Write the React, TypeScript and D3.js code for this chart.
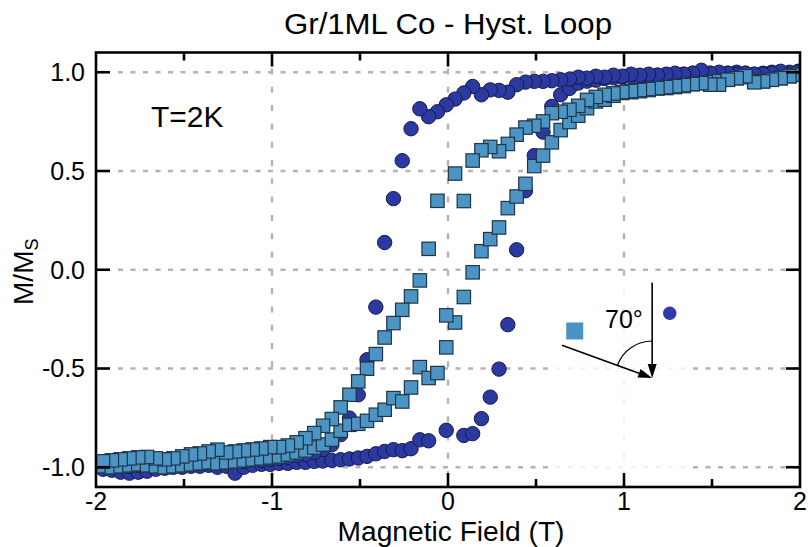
import React from 'react';
import * as d3 from 'd3';

// Field values (T) for the two sweep directions
const fieldDown = [1.99,1.94,1.89,1.84,1.79,1.74,1.69,1.64,1.59,1.54,1.49,1.44,1.39,1.34,1.29,1.24,1.19,1.14,1.09,1.04,0.99,0.94,0.89,0.84,0.79,0.74,0.69,0.64,0.59,0.54,0.49,0.44,0.39,0.34,0.29,0.24,0.19,0.14,0.09,0.04,-0.01,-0.06,-0.11,-0.16,-0.21,-0.26,-0.31,-0.36,-0.41,-0.46,-0.51,-0.56,-0.61,-0.66,-0.71,-0.76,-0.81,-0.86,-0.91,-0.96,-1.01,-1.06,-1.11,-1.16,-1.21,-1.26,-1.31,-1.36,-1.41,-1.46,-1.51,-1.56,-1.61,-1.66,-1.71,-1.76,-1.81,-1.86,-1.91,-1.96];
const fieldUp = [-1.96,-1.91,-1.86,-1.81,-1.76,-1.71,-1.66,-1.61,-1.56,-1.51,-1.46,-1.41,-1.36,-1.31,-1.26,-1.21,-1.16,-1.11,-1.06,-1.01,-0.96,-0.91,-0.86,-0.81,-0.76,-0.71,-0.66,-0.61,-0.56,-0.51,-0.46,-0.41,-0.36,-0.31,-0.26,-0.21,-0.16,-0.11,-0.06,-0.01,0.04,0.09,0.14,0.19,0.24,0.29,0.34,0.39,0.44,0.49,0.54,0.59,0.64,0.69,0.74,0.79,0.84,0.89,0.94,0.99,1.04,1.09,1.14,1.19,1.24,1.29,1.34,1.39,1.44,1.49,1.54,1.59,1.64,1.69,1.74,1.79,1.84,1.89,1.94,1.99];

// Dark circles (normal incidence)
const circleDownM: (number | null)[] = [1.0,0.99,1.005,0.995,0.99,0.99,0.995,0.99,0.995,1.0,0.995,1.01,0.995,0.99,0.995,0.99,0.985,0.99,0.985,0.99,0.98,0.985,0.975,0.98,0.97,0.975,0.965,0.962,0.957,0.954,0.954,0.95,0.937,0.899,0.908,0.911,0.886,0.928,0.895,0.864,0.835,0.8,0.775,0.815,0.714,0.552,0.36,0.138,-0.189,-0.456,-0.633,-0.751,-0.835,-0.886,-0.911,-0.925,-0.935,-0.94,-0.95,-0.955,-0.96,-0.965,-0.96,-0.97,-0.965,-0.975,-0.97,-0.975,-0.98,-0.975,-0.985,-0.98,-0.985,-0.99,-0.985,-0.99,-0.995,-0.99,-0.995,-0.99];
const circleUpM: (number | null)[] = [-1.01,-1.015,-1.025,-1.03,-1.025,-1.02,-1.01,-1.005,-1.0,-1.0,-0.995,-0.995,-0.99,-1.0,-0.995,-1.03,-1.0,-0.99,-0.985,-0.985,-0.98,-0.98,-0.975,-0.975,-0.97,-0.968,-0.965,-0.962,-0.958,-0.953,-0.945,-0.932,-0.92,-0.911,-0.916,-0.906,-0.861,-0.866,null,-0.813,null,-0.839,-0.83,-0.754,-0.645,-0.503,-0.278,0.101,0.4,0.578,0.697,0.827,0.886,0.918,0.945,0.955,0.96,0.968,0.972,0.975,0.978,0.982,0.98,0.985,0.988,0.99,0.99,0.995,0.99,0.995,0.99,0.995,1.0,0.995,0.99,0.995,1.0,0.995,1.0,1.005];

// Light squares (70 degree incidence)
const squareDownM: (number | null)[] = [0.987,0.98,0.97,0.962,0.954,0.949,0.98,0.97,0.962,0.937,0.937,0.945,0.94,0.935,0.93,0.925,0.92,0.915,0.91,0.905,0.9,0.893,0.886,0.875,0.86,0.83,0.81,0.8,0.793,0.751,0.729,0.72,0.684,0.637,0.6,0.622,0.605,0.553,0.348,0.487,-0.231,0.349,0.106,-0.054,-0.135,-0.203,-0.27,-0.343,-0.427,-0.501,-0.565,-0.633,-0.697,-0.756,-0.79,-0.827,-0.853,-0.874,-0.89,-0.898,-0.898,-0.905,-0.91,-0.915,-0.92,-0.925,-0.911,-0.92,-0.93,-0.935,-0.945,-0.955,-0.96,-0.955,-0.948,-0.95,-0.955,-0.96,-0.965,-0.97];
const squareUpM: (number | null)[] = [-0.995,-1.0,-0.995,-0.99,-0.985,-0.99,-0.995,-1.0,-0.995,-0.99,-0.985,-0.98,-0.975,-0.98,-0.975,-0.97,-0.965,-0.96,-0.955,-0.95,-0.945,-0.935,-0.925,-0.915,-0.9,-0.885,-0.86,-0.815,-0.785,-0.78,-0.765,-0.734,-0.709,-0.65,-0.667,-0.596,-0.493,-0.548,-0.523,-0.393,-0.267,-0.138,-0.013,0.094,0.155,0.214,0.312,0.371,0.435,0.525,0.578,0.645,0.707,0.748,0.78,0.818,0.852,0.861,0.881,0.895,0.899,0.904,0.91,0.918,0.92,0.925,0.93,0.94,0.945,0.95,0.955,0.962,0.97,0.975,0.954,0.954,0.962,0.97,0.98,0.987];

const xMajorTicks = [-2, -1, 0, 1, 2];
const xMinorTicks = [-1.5, -0.5, 0.5, 1.5];
const yTicks = [-1, -0.5, 0, 0.5, 1];
const xTickLabels = ['-2', '-1', '0', '1', '2'];
const yTickLabels = ['-1.0', '-0.5', '0.0', '0.5', '1.0'];

const FONT = '"Liberation Sans", Arial, Helvetica, sans-serif';
const CIRCLE_FILL = '#2c3a9f';
const CIRCLE_STROKE = '#141a52';
const SQUARE_FILL = '#4b94c4';
const SQUARE_STROKE = '#1f3447';
const GRID = '#b4b4b4';

function pairs(h: number[], m: (number | null)[]): [number, number][] {
  const out: [number, number][] = [];
  h.forEach((v, i) => {
    const val = m[i];
    if (val !== null && val !== undefined) out.push([v, val]);
  });
  return out;
}

export default function App() {
  const width = 808;
  const height = 547;
  const left = 96, right = 800, top = 52.5, bottom = 487;
  const x = d3.scaleLinear().domain([-2, 2]).range([left, right]);
  const y = d3.scaleLinear().domain([-1.1, 1.1]).range([bottom, top]);

  const circles = [...pairs(fieldUp, circleUpM), ...pairs(fieldDown, circleDownM)];
  const squares = [...pairs(fieldUp, squareUpM), ...pairs(fieldDown, squareDownM)];
  const sq = 13.4;

  // annotation geometry
  const tipX = x(1.16), tipY = y(-0.548);
  const vTopY = y(-0.066);
  const ang = (70 * Math.PI) / 180;
  const dirX = -Math.sin(ang), dirY = -Math.cos(ang);
  const len = 96;
  const sX = tipX + dirX * len, sY = tipY + dirY * len;
  const r = 37;
  const arcStart = [tipX, tipY - r];
  const arcEnd = [tipX + dirX * r, tipY + dirY * r];
  const headL = 14, headW = 4.5;
  const vHead = `${tipX},${tipY} ${tipX - headW},${tipY - headL} ${tipX + headW},${tipY - headL}`;
  const bx = tipX + dirX * headL, by = tipY + dirY * headL;
  const px = -dirY, py = dirX;
  const tHead = `${tipX},${tipY} ${bx + px * headW},${by + py * headW} ${bx - px * headW},${by - py * headW}`;

  return (
    <svg width={width} height={height} style={{ position: 'absolute', left: 0, top: 0, background: '#fff' }} fontFamily={FONT}>
      <defs>
        <clipPath id="plotClip">
          <rect x={left} y={top} width={right - left} height={bottom - top} />
        </clipPath>
      </defs>
      <rect x={0} y={0} width={width} height={height} fill="#fff" />

      {/* grid */}
      <g stroke={GRID} strokeWidth={2.4} fill="none">
        {yTicks.map((t) => (
          <line key={'gy' + t} x1={left + 22} x2={right - 2} y1={y(t)} y2={y(t)} strokeDasharray="5 7.5" />
        ))}
        {[-1, 0, 1].map((t) => (
          <line key={'gx' + t} x1={x(t)} x2={x(t)} y1={top + 16} y2={bottom - 2} strokeDasharray="6 12.3" />
        ))}
      </g>

      {/* inset veil */}
      <rect x={x(0.58)} y={y(-0.03)} width={x(1.36) - x(0.58)} height={y(-1.08) - y(-0.03)} fill="#fff" opacity={0.82} />

      {/* data */}
      <g clipPath="url(#plotClip)">
        {circles.map((d, i) => (
          <circle key={'c' + i} cx={x(d[0])} cy={y(d[1])} r={7.2} fill={CIRCLE_FILL} stroke={CIRCLE_STROKE} strokeWidth={1} />
        ))}
        {squares.map((d, i) => (
          <rect key={'s' + i} x={x(d[0]) - sq / 2} y={y(d[1]) - sq / 2} width={sq} height={sq} fill={SQUARE_FILL} stroke={SQUARE_STROKE} strokeWidth={1.2} />
        ))}
      </g>

      {/* frame */}
      <rect x={left} y={top} width={right - left} height={bottom - top} fill="none" stroke="#000" strokeWidth={2.6} />

      {/* ticks */}
      <g stroke="#000" strokeWidth={2.6}>
        {xMajorTicks.slice(1, -1).map((t) => (
          <g key={'xm' + t}>
            <line x1={x(t)} x2={x(t)} y1={bottom} y2={bottom - 14} />
            <line x1={x(t)} x2={x(t)} y1={top} y2={top + 14} />
          </g>
        ))}
        {xMinorTicks.map((t) => (
          <g key={'xn' + t}>
            <line x1={x(t)} x2={x(t)} y1={bottom} y2={bottom - 8} />
            <line x1={x(t)} x2={x(t)} y1={top} y2={top + 8} />
          </g>
        ))}
        {yTicks.map((t) => (
          <g key={'yt' + t}>
            <line x1={left} x2={left + 14} y1={y(t)} y2={y(t)} />
            <line x1={right} x2={right - 14} y1={y(t)} y2={y(t)} />
          </g>
        ))}
      </g>

      {/* tick labels */}
      <g fontSize={25} fill="#000">
        {xMajorTicks.map((t, i) => (
          <text key={'xl' + t} x={x(t)} y={510} textAnchor="middle">{xTickLabels[i]}</text>
        ))}
        {yTicks.map((t, i) => (
          <text key={'yl' + t} x={85} y={y(t)} dy="0.35em" textAnchor="end">{yTickLabels[i]}</text>
        ))}
      </g>

      {/* titles */}
      <text x={448} y={34} textAnchor="middle" fontSize={30} textLength={328} lengthAdjust="spacingAndGlyphs">Gr/1ML Co - Hyst. Loop</text>
      <text x={451} y={541} textAnchor="middle" fontSize={27} textLength={227} lengthAdjust="spacingAndGlyphs">Magnetic Field (T)</text>
      <text transform={`translate(33,${y(0) + 2}) rotate(-90)`} textAnchor="middle" fontSize={28}>
        M/M<tspan fontSize={18} dy={5}>S</tspan>
      </text>
      <text x={151} y={127} fontSize={30}>T=2K</text>

      {/* incidence annotation */}
      <rect x={x(0.72) - 8.5} y={y(-0.31) - 8.5} width={17} height={17} fill="#4a93c3" />
      <circle cx={x(1.26)} cy={y(-0.22)} r={6.7} fill="#2d3ba5" />
      <text x={605} y={328} fontSize={25}>70°</text>
      <g stroke="#000" strokeWidth={1.6} fill="none">
        <line x1={tipX} y1={vTopY} x2={tipX} y2={tipY - headL + 1} />
        <line x1={sX} y1={sY} x2={bx} y2={by} />
        <path d={`M${arcStart[0]},${arcStart[1]} A${r},${r} 0 0 0 ${arcEnd[0]},${arcEnd[1]}`} strokeWidth={1.2} />
      </g>
      <polygon points={vHead} fill="#000" />
      <polygon points={tHead} fill="#000" />
    </svg>
  );
}
